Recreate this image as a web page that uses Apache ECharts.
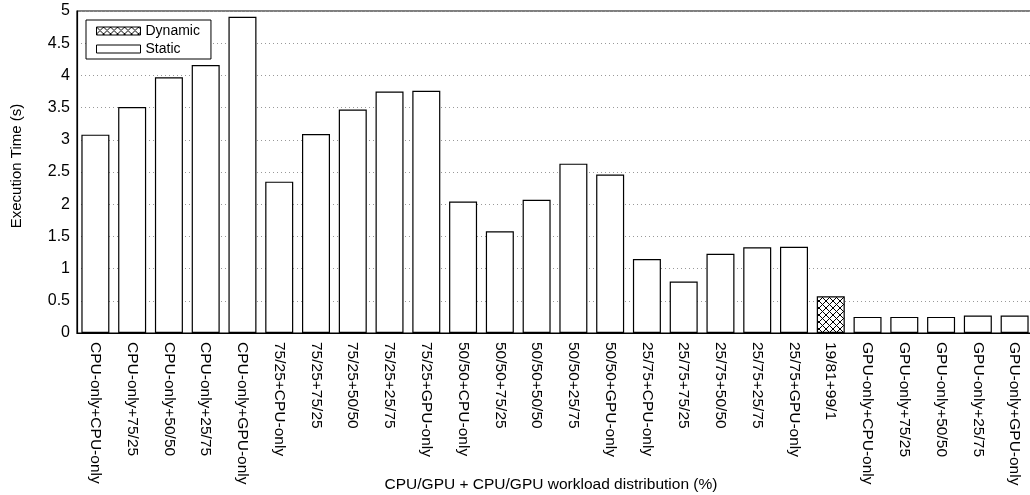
<!DOCTYPE html>
<html>
<head>
<meta charset="utf-8">
<script src="https://cdn.jsdelivr.net/npm/echarts@6/dist/echarts.min.js"></script>
<style>
  html, body { margin: 0; padding: 0; background: #fff; }
  #chart { width: 1030px; height: 495px; }
</style>
</head>
<body>
<div id="chart"></div>
<script>
// Workload configurations (CPU/GPU split of kernel 1 + kernel 2)
const categories = [
  'CPU-only+CPU-only', 'CPU-only+75/25', 'CPU-only+50/50', 'CPU-only+25/75', 'CPU-only+GPU-only',
  '75/25+CPU-only', '75/25+75/25', '75/25+50/50', '75/25+25/75', '75/25+GPU-only',
  '50/50+CPU-only', '50/50+75/25', '50/50+50/50', '50/50+25/75', '50/50+GPU-only',
  '25/75+CPU-only', '25/75+75/25', '25/75+50/50', '25/75+25/75', '25/75+GPU-only',
  '19/81+99/1',
  'GPU-only+CPU-only', 'GPU-only+75/25', 'GPU-only+50/50', 'GPU-only+25/75', 'GPU-only+GPU-only'
];

// Execution time (s) for the static partitionings; '-' where the dynamic run sits
const staticTimes = [
  3.08, 3.51, 3.97, 4.16, 4.91,
  2.35, 3.09, 3.47, 3.75, 3.76,
  2.04, 1.58, 2.07, 2.63, 2.46,
  1.15, 0.80, 1.23, 1.33, 1.34,
  '-',
  0.25, 0.25, 0.25, 0.27, 0.27
];

// Execution time (s) of the dynamically scheduled run
const dynamicTimes = [
  '-', '-', '-', '-', '-',
  '-', '-', '-', '-', '-',
  '-', '-', '-', '-', '-',
  '-', '-', '-', '-', '-',
  0.57,
  '-', '-', '-', '-', '-'
];

const yTicks = { min: 0, max: 5, step: 0.5 };

// Cross-hatch fill for the dynamic bar
function crossHatch(size) {
  const c = document.createElement('canvas');
  c.width = size; c.height = size;
  const g = c.getContext('2d');
  g.fillStyle = '#fff';
  g.fillRect(0, 0, size, size);
  g.strokeStyle = '#000';
  g.lineWidth = 1;
  g.beginPath();
  g.moveTo(0, 0); g.lineTo(size, size);
  g.moveTo(size, 0); g.lineTo(0, size);
  g.stroke();
  return c;
}

const FONT = 'Liberation Sans, Arial, Helvetica, sans-serif';
const chart = echarts.init(document.getElementById('chart'), null, { renderer: 'canvas' });

chart.setOption({
  animation: false,
  backgroundColor: '#fff',
  textStyle: { fontFamily: FONT, color: '#000' },
  grid: {
    left: 77, right: -3, top: 11, bottom: 162,
    outerBoundsMode: 'none',
    containLabel: false,
    show: true, borderColor: '#000', borderWidth: 1.2, backgroundColor: 'transparent'
  },
  legend: {
    left: 86, top: 20,
    orient: 'vertical',
    data: ['Dynamic', 'Static'],
    itemWidth: 44, itemHeight: 8, itemGap: 4,
    icon: 'rect',
    padding: [4, 11, 3, 10],
    borderColor: '#000', borderWidth: 1,
    backgroundColor: '#fff',
    textStyle: { fontFamily: FONT, fontSize: 14, color: '#000' },
    itemStyle: { borderColor: '#000', borderWidth: 1 }
  },
  xAxis: {
    type: 'category',
    data: categories,
    name: 'CPU/GPU + CPU/GPU workload distribution (%)',
    nameLocation: 'middle',
    nameGap: 144,
    nameMoveOverlap: false,
    nameTextStyle: { fontFamily: FONT, fontSize: 15.5, color: '#000', padding: [0, 8, 0, 0] },
    axisLine: { lineStyle: { color: '#000', width: 1.2 } },
    axisTick: { show: false },
    axisLabel: {
      interval: 0, rotate: -90, margin: 9,
      fontFamily: FONT, fontSize: 15.5, color: '#000'
    },
    splitLine: { show: false }
  },
  yAxis: {
    type: 'value',
    min: yTicks.min, max: yTicks.max, interval: yTicks.step,
    name: 'Execution Time (s)',
    nameLocation: 'middle',
    nameGap: 53,
    nameRotate: 90,
    nameMoveOverlap: false,
    nameTextStyle: { fontFamily: FONT, fontSize: 15, color: '#000', padding: [0, 0, 0, 12] },
    axisLine: { show: true, lineStyle: { color: '#000', width: 1.2 } },
    axisTick: { show: false },
    axisLabel: { margin: 7, fontFamily: FONT, fontSize: 16, color: '#000' },
    splitLine: { show: true, lineStyle: { color: '#999', type: [1, 3], width: 1 } }
  },
  series: [
    {
      name: 'Dynamic',
      type: 'bar',
      data: dynamicTimes,
      barWidth: 28,
      barGap: '-100%',
      itemStyle: {
        color: { image: crossHatch(7), repeat: 'repeat' },
        borderColor: '#000', borderWidth: 1.2
      }
    },
    {
      name: 'Static',
      type: 'bar',
      data: staticTimes,
      barWidth: 28,
      barGap: '-100%',
      itemStyle: { color: '#fff', borderColor: '#000', borderWidth: 1.2 }
    }
  ]
});
</script>
</body>
</html>
